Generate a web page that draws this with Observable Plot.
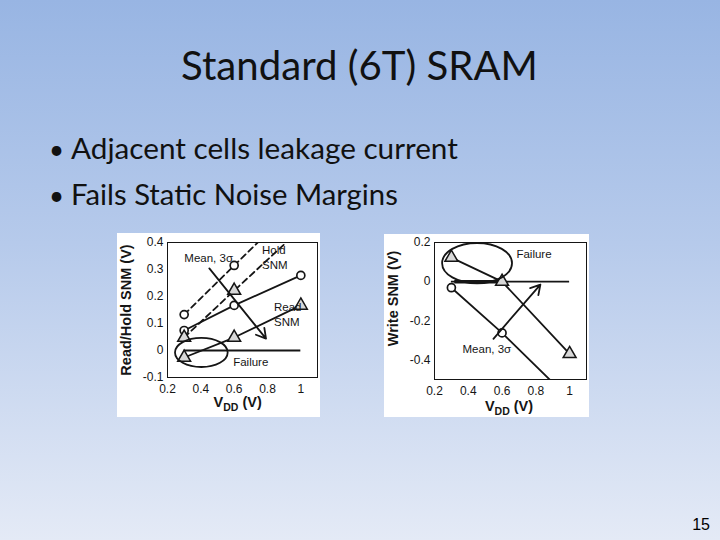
<!DOCTYPE html>
<html><head><meta charset="utf-8">
<script src="https://cdn.jsdelivr.net/npm/d3@7"></script>
<script src="https://cdn.jsdelivr.net/npm/@observablehq/plot@0.6"></script>
<style>
html,body{margin:0;padding:0}
#slide{position:relative;width:720px;height:540px;overflow:hidden;background:linear-gradient(to bottom,#98b5e3 0%,#b6caeb 45%,#e4eaf6 100%)}
#text{position:absolute;left:0;top:0}
.chart{position:absolute}
</style></head>
<body><div id="slide"><svg id="text" width="720" height="540"></svg>
<div id="c1" class="chart" style="left:117px;top:233px"></div>
<div id="c2" class="chart" style="left:384px;top:234px"></div></div>
<script>
// ---- data ----
const titleText = "Standard (6T) SRAM";
const bullets = ["Adjacent cells leakage current", "Fails Static Noise Margins"];
const pageNum = "15";
const xTicks = [0.2, 0.4, 0.6, 0.8, 1];
const yTicksL = [-0.1, 0, 0.1, 0.2, 0.3, 0.4];
const yTicksR = [-0.4, -0.2, 0, 0.2];
const vdd = [0.3, 0.6, 1.0];
const holdMean = [0.133, 0.315, 0.555];
const hold3s = [0.048, 0.222, 0.45];
const readMean = [0.074, 0.167, 0.278];
const read3s = [-0.026, 0.048, 0.167];
const writeMean = [-0.031, -0.262, -0.6];
const write3s = [0.123, 0.0, -0.369];
const failX = [0.3, 1.0];
const failBoldX = [0.32, 0.59];
const leftNotes = ["Mean, 3σ", "Hold", "SNM", "Read", "SNM", "Failure"];
const leftNoteX = [0.301, 0.767, 0.767, 0.839, 0.839, 0.594];
const leftNoteY = [0.34, 0.37, 0.315, 0.159, 0.104, -0.044];
const rightNotes = ["Failure", "Mean, 3σ"];
const rightNoteX = [0.685, 0.366];
const rightNoteY = [0.138, -0.344];
const leftArrow = {x1: 0.451, y1: 0.304, x2: 0.791, y2: 0.044};
const rightArrow = {x1: 0.549, y1: -0.292, x2: 0.827, y2: -0.015};
const leftEllipse = {cx: 0.406, cy: -0.009, rx: 0.158, ry: 0.054};
const rightEllipse = {cx: 0.455, cy: 0.092, rx: 0.207, ry: 0.103};

// ---- slide text ----
const T = d3.select("#text");
function fitText(sel, target){
  const w = sel.node().getComputedTextLength();
  const fs = parseFloat(sel.attr("font-size"));
  sel.attr("font-size", fs * target / w);
}
const sans = "Lato, 'Open Sans', sans-serif";
const tt = T.append("text").attr("x", 359.5).attr("y", 80).attr("text-anchor","middle")
  .attr("font-family", sans).attr("font-size", 38).attr("fill","#111").text(titleText);
fitText(tt, 357);
const bw = [387, 327];
bullets.forEach((b,i)=>{
  const y = [159, 205][i];
  T.append("text").attr("x",49).attr("y",y).attr("font-family",sans).attr("font-size",26).attr("fill","#111").text("•");
  const t = T.append("text").attr("x",71).attr("y",y).attr("font-family",sans).attr("font-size",28).attr("fill","#111").text(b);
  fitText(t, bw[i]);
});
T.append("text").attr("x",710).attr("y",530).attr("text-anchor","end").attr("font-family","'Liberation Sans', Arial, sans-serif").attr("font-size",16).attr("fill","#000").text(pageNum);

// ---- charts ----
const font = "'Liberation Sans', Arial, Helvetica, sans-serif";
const fmt = d => String(d);
const ink = "#151515";
function ellipseMark(e){
  return (index, scales) => {
    const x = scales.x, y = scales.y;
    const cx = x(e.cx), cy = y(e.cy);
    const rx = Math.abs(x(e.cx + e.rx) - cx), ry = Math.abs(y(e.cy + e.ry) - cy);
    const g = d3.create("svg:g");
    g.append("ellipse").attr("cx",cx).attr("cy",cy).attr("rx",rx).attr("ry",ry)
      .attr("fill","none").attr("stroke",ink).attr("stroke-width",1.8);
    return g.node();
  };
}
function rows(ys){ return vdd.map((v,i)=>({x:v, y:ys[i]})); }
function notes(t, xs, ys){ return t.map((s,i)=>({t:s, x:xs[i], y:ys[i]})); }

function addLabels(svg, ylab, ylx, yly, xlx, xly){
  const s = d3.select(svg);
  s.append("text").attr("transform",`translate(${ylx},${yly}) rotate(-90)`).attr("text-anchor","middle")
    .attr("font-family",font).attr("font-weight","bold").attr("font-size",14.5).attr("fill",ink).text(ylab);
  const t = s.append("text").attr("x", svg.scale("x").apply(xlx)).attr("y", xly).attr("text-anchor","middle")
    .attr("font-family",font).attr("font-weight","bold").attr("font-size",14.5).attr("fill",ink);
  t.append("tspan").text("V");
  t.append("tspan").attr("font-size",10.5).attr("dy",4).text("DD");
  t.append("tspan").attr("dy",-4).text(" (V)");
}

const common = {
  style: {background:"white", fontFamily: font, fontSize:"12px", color:ink, overflow:"visible"},
};
const lw = 1.8;

const p1 = Plot.plot({
  ...common,
  width: 203, height: 184,
  marginLeft: 50, marginTop: 9, marginRight: 3, marginBottom: 40,
  x: {domain:[0.2, 1.1], ticks: xTicks, tickFormat: fmt, tickSize: 0, tickPadding: 7, label: null},
  y: {domain:[-0.1, 0.4], ticks: yTicksL, tickFormat: fmt, tickSize: 0, tickPadding: 4, label: null},
  marks: [
    Plot.frame({stroke:ink, strokeWidth:1}),
    Plot.ruleY([0], {x1: failX[0], x2: failX[1], stroke:ink, strokeWidth:lw}),
    Plot.line(rows(holdMean), {x:"x", y:"y", stroke:ink, strokeWidth:lw, strokeDasharray:"6,4", clip:true}),
    Plot.line(rows(hold3s), {x:"x", y:"y", stroke:ink, strokeWidth:lw, strokeDasharray:"6,4", clip:true}),
    Plot.line(rows(readMean), {x:"x", y:"y", stroke:ink, strokeWidth:lw, clip:true}),
    Plot.line(rows(read3s), {x:"x", y:"y", stroke:ink, strokeWidth:lw, clip:true}),
    Plot.dot(rows(holdMean), {x:"x", y:"y", r:4, stroke:ink, strokeWidth:1.7, fill:"white", clip:true}),
    Plot.dot(rows(readMean), {x:"x", y:"y", r:4, stroke:ink, strokeWidth:1.7, fill:"white", clip:true}),
    Plot.dot(rows(hold3s), {x:"x", y:"y", r:4.8, symbol:"triangle", stroke:ink, strokeWidth:1.5, fill:"#d8d8d8", clip:true}),
    Plot.dot(rows(read3s), {x:"x", y:"y", r:4.8, symbol:"triangle", stroke:ink, strokeWidth:1.5, fill:"#d8d8d8", clip:true}),
    ellipseMark(leftEllipse),
    Plot.arrow([leftArrow], {x1:"x1", y1:"y1", x2:"x2", y2:"y2", stroke:ink, strokeWidth:lw, headLength:9}),
    Plot.text(notes(leftNotes, leftNoteX, leftNoteY), {x:"x", y:"y", text:"t", textAnchor:"start", fontSize:11.5, fill:ink})
  ]
});
document.getElementById("c1").appendChild(p1);
addLabels(p1, "Read/Hold SNM (V)", 14, 77, 0.624, 174);

const p2 = Plot.plot({
  ...common,
  width: 205, height: 183,
  marginLeft: 50, marginTop: 8, marginRight: 3, marginBottom: 38,
  x: {domain:[0.2, 1.1], ticks: xTicks, tickFormat: fmt, tickSize: 0, tickPadding: 7, label: null},
  y: {domain:[-0.5, 0.2], ticks: yTicksR, tickFormat: fmt, tickSize: 0, tickPadding: 4, label: null},
  marks: [
    Plot.frame({stroke:ink, strokeWidth:1}),
    Plot.ruleY([0], {x1: failX[0], x2: failX[1], stroke:ink, strokeWidth:lw}),
    Plot.ruleY([0], {x1: failBoldX[0], x2: failBoldX[1], stroke:ink, strokeWidth:3.5}),
    Plot.line(rows(writeMean), {x:"x", y:"y", stroke:ink, strokeWidth:lw, clip:true}),
    Plot.line(rows(write3s), {x:"x", y:"y", stroke:ink, strokeWidth:lw, clip:true}),
    Plot.dot(rows(writeMean), {x:"x", y:"y", r:4, stroke:ink, strokeWidth:1.7, fill:"white", clip:true}),
    Plot.dot(rows(write3s), {x:"x", y:"y", r:4.8, symbol:"triangle", stroke:ink, strokeWidth:1.5, fill:"#d8d8d8", clip:true}),
    ellipseMark(rightEllipse),
    Plot.arrow([rightArrow], {x1:"x1", y1:"y1", x2:"x2", y2:"y2", stroke:ink, strokeWidth:lw, headLength:9}),
    Plot.text(notes(rightNotes, rightNoteX, rightNoteY), {x:"x", y:"y", text:"t", textAnchor:"start", fontSize:11.5, fill:ink})
  ]
});
document.getElementById("c2").appendChild(p2);
addLabels(p2, "Write SNM (V)", 14, 64.5, 0.644, 177);
</script></body></html>
